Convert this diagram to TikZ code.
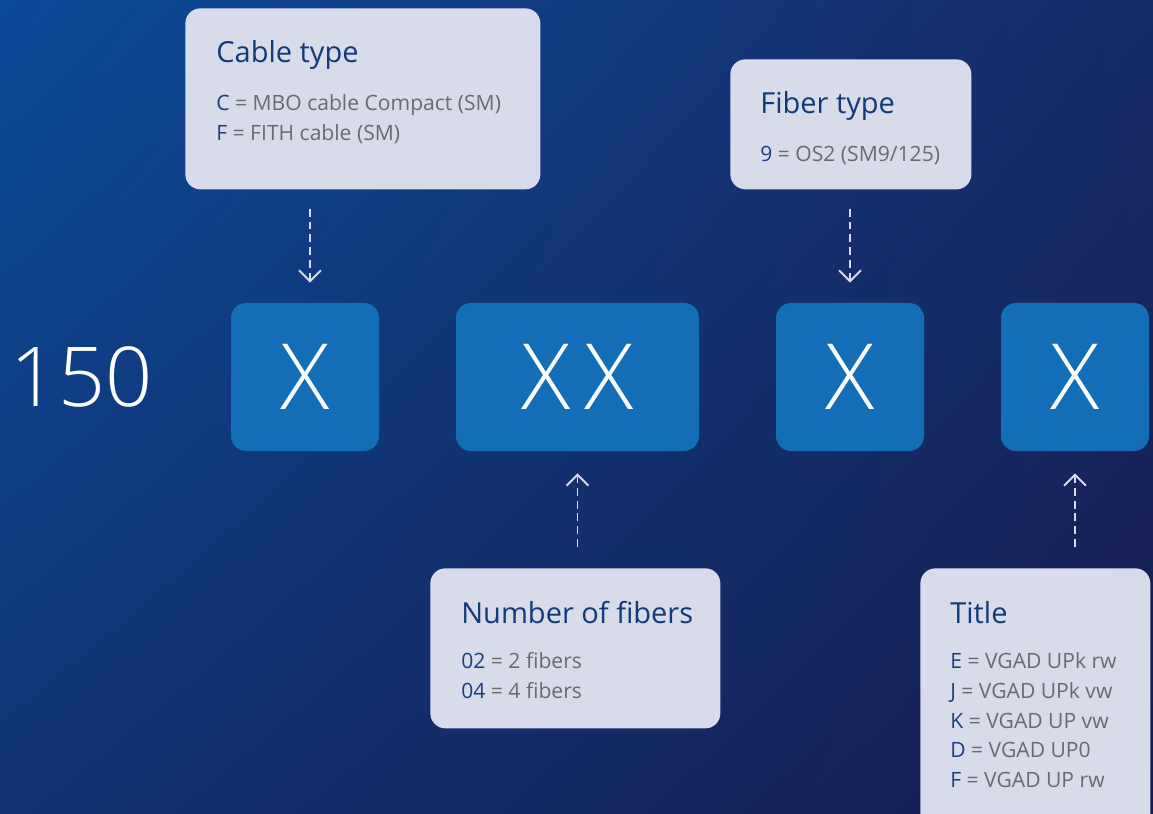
\documentclass[tikz,border=0pt]{standalone}
\usepackage{fontspec}
\setmainfont{Open Sans}
\newfontfamily\thin{Open Sans Light}
\usetikzlibrary{positioning,arrows.meta,shadings}
\definecolor{bgtl}{HTML}{0B4A98}
\definecolor{bgtr}{HTML}{172C68}
\definecolor{bgbl}{HTML}{113474}
\definecolor{bgbr}{HTML}{161C4E}
\definecolor{xblue}{HTML}{136EB7}
\definecolor{boxgray}{HTML}{D8DBEA}
\definecolor{headblue}{HTML}{133A78}
\definecolor{keyblue}{HTML}{1A3F80}
\definecolor{bodygray}{HTML}{686B73}
\newcommand{\kc}[1]{\textcolor{keyblue}{#1}}
\tikzset{
  xb/.style={rectangle, rounded corners=3mm, minimum width=29.6mm, minimum height=29.6mm, text centered, fill=xblue, text=white, font=\thin\fontsize{52}{52}\selectfont},
  ib/.style={rectangle, rounded corners=3mm, anchor=north west, fill=boxgray},
  hd/.style={anchor=base west, inner sep=0pt, text=headblue, font=\fontsize{16.5}{20}\selectfont},
  bd/.style={anchor=north west, inner sep=0pt, align=left, text=bodygray, font=\fontsize{12}{17}\selectfont},
  ar/.style={draw=boxgray, line width=1.1pt, dash pattern=on 4.5pt off 2.8pt, -{Straight Barb[length=2.2mm, width=4.4mm]}},
  node distance=7mm
}

\begin{document}
\begin{tikzpicture}[x=0.2mm, y=-0.2mm]
	\clip (0,0) rectangle (1153,814);
	\shade[upper left=bgtl, upper right=bgtr, lower left=bgbl, lower right=bgbr] (0,0) rectangle (1153,814);
	% the code
	\node[xb] (x1) at (305,377) {X};
	\node[xb, minimum width=48.6mm] (xx) at (577.5,377) {X\kern8ptX};
	\node[xb] (x3) at (850,377) {X};
	\node[xb] (x4) at (1075,377) {X};
	\node[left=15.6mm of x1, inner sep=0pt, text=white, font=\thin\fontsize{47}{47}\selectfont] (pre) {150};
	% the boxes
	\node[ib, minimum width=71mm, minimum height=36.2mm] (cable) at (185,8) {};
	\node[hd] (cablehd) at ([shift={(31,55)}]cable.north west) {Cable type};
	\node[bd] (cablebd) at ([shift={(31,84.4)}]cable.north west) {\rule{0pt}{10pt}\kc{C} = MBO cable Compact (SM)\\ \kc{F} = FITH cable (SM)};
	\node[ib, minimum width=48.2mm, minimum height=26mm] (fiber) at (730,59) {};
	\node[hd] (fiberhd) at ([shift={(30,55)}]fiber.north west) {Fiber type};
	\node[bd] (fiberbd) at ([shift={(30,84.4)}]fiber.north west) {\rule{0pt}{10pt}\kc{9} = OS2 (SM9/125)};
	\node[ib, minimum width=58mm, minimum height=32mm] (nr) at (430,568) {};
	\node[hd] (nrhd) at ([shift={(31,55)}]nr.north west) {Number of fibers};
	\node[bd] (nrbd) at ([shift={(31,82.4)}]nr.north west) {\rule{0pt}{10pt}\kc{02} = 2 fibers\\ \kc{04} = 4 fibers};
	\node[ib, minimum width=46mm, minimum height=52mm] (title) at (920,568) {};
	\node[hd] (titlehd) at ([shift={(30,55)}]title.north west) {Title};
	\node[bd] (titlebd) at ([shift={(30,82.4)}]title.north west) {\rule{0pt}{10pt}\kc{E} = VGAD UPk rw\\ \kc{J} = VGAD UPk vw\\ \kc{K} = VGAD UP vw\\ \kc{D} = VGAD UP0\\ \kc{F} = VGAD UP rw};
	% arrows
	\draw[ar, shorten <=3.8mm, shorten >=4mm] (cable.south -| x1.north) ++(5,0) coordinate (ca) (ca) -- (ca |- x1.north);
	\draw[ar, shorten <=3.8mm, shorten >=4mm] (fiber.south -| x3.north) -- (x3.north);
	\draw[ar, shorten <=4.2mm, shorten >=4.4mm] (nr.north -| xx.south) -- (xx.south);
	\draw[ar, shorten <=4.2mm, shorten >=4.4mm] (title.north -| x4.south) -- (x4.south);
\end{tikzpicture}
\end{document}
